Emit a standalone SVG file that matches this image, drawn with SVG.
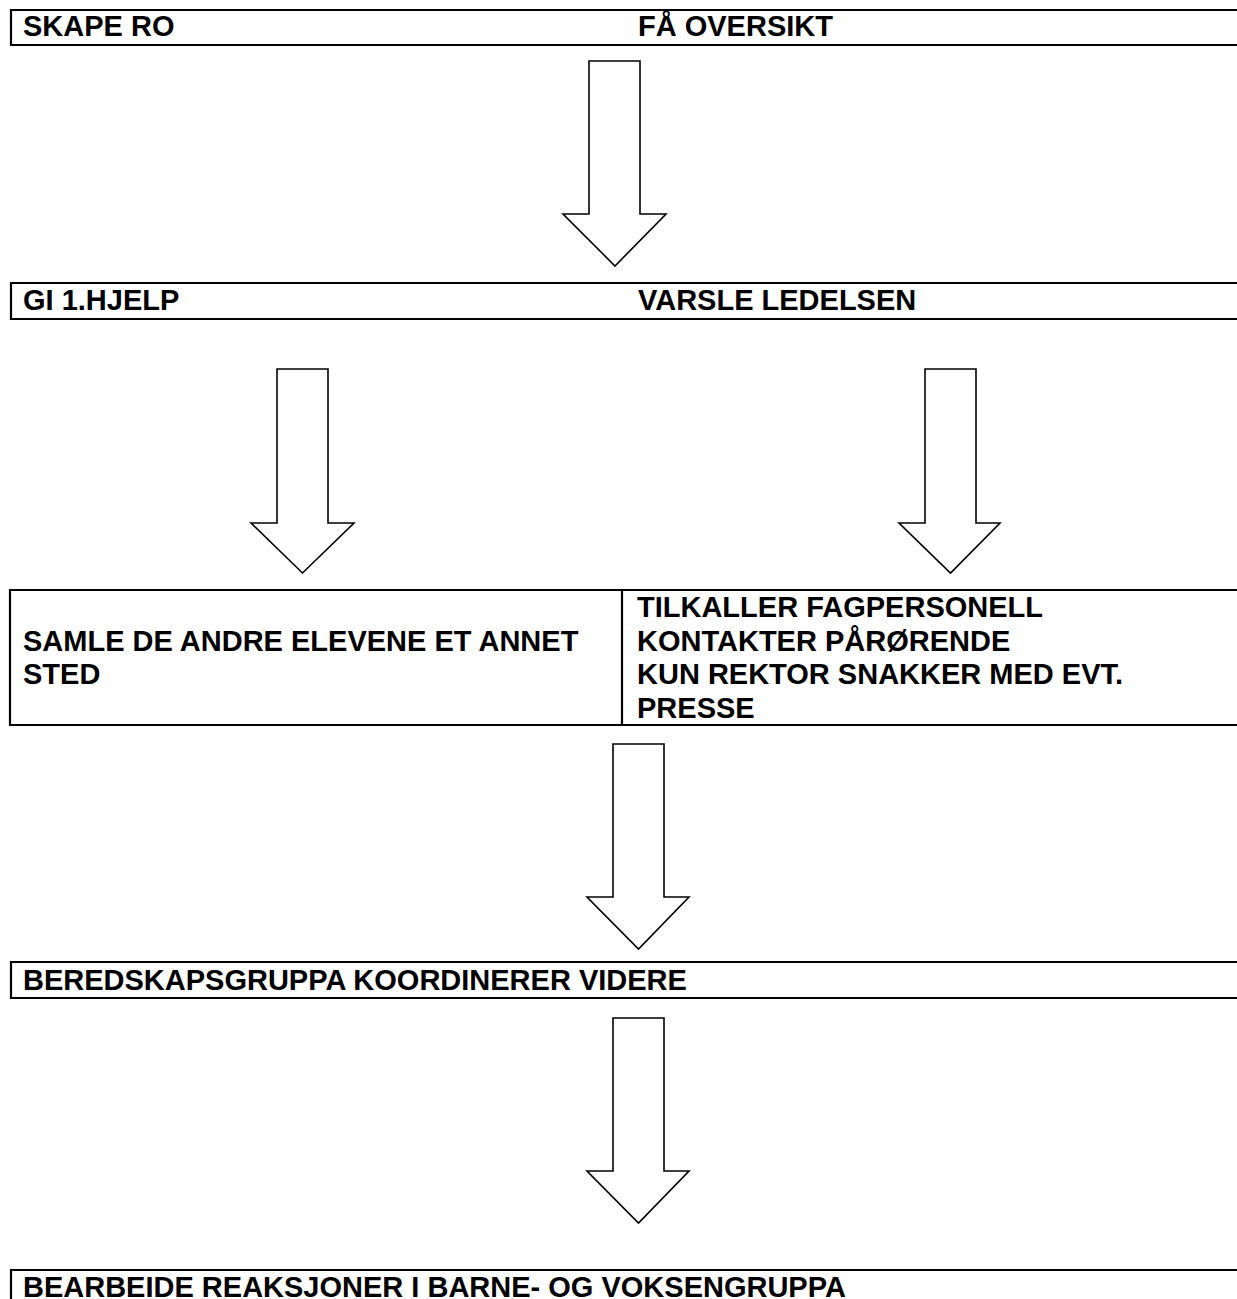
<svg xmlns="http://www.w3.org/2000/svg" width="1237" height="1299" viewBox="0 0 1237 1299">
<style>
.t{font-family:"Liberation Sans",Arial,sans-serif;font-weight:bold;font-size:29px;fill:#000}
.b{fill:none;stroke:#000;stroke-width:2.2}
.a{fill:#fff;stroke:#000;stroke-width:1.6;stroke-linejoin:miter}
</style>
<rect width="1237" height="1299" fill="#fff"/>
<g id="n1">
<path class="b" d="M1240 10 H11 V45 H1240"/>
<text class="t" x="23" y="36">SKAPE RO</text>
<text class="t" x="638" y="36">FÅ OVERSIKT</text>
</g>
<g id="n2">
<path class="b" d="M1240 283 H11 V319 H1240"/>
<text class="t" x="23" y="310">GI 1.HJELP</text>
<text class="t" x="638" y="310">VARSLE LEDELSEN</text>
</g>
<g id="n3">
<path class="b" d="M1240 590 H10 V725 H1240 M622 590 V725"/>
<text class="t" x="23" y="650.5">SAMLE DE ANDRE ELEVENE ET ANNET</text>
<text class="t" x="23" y="684">STED</text>
</g>
<g id="n4">
<text class="t" x="637" y="617">TILKALLER FAGPERSONELL</text>
<text class="t" x="637" y="650.5">KONTAKTER PÅRØRENDE</text>
<text class="t" x="637" y="684">KUN REKTOR SNAKKER MED EVT.</text>
<text class="t" x="637" y="717.5">PRESSE</text>
</g>
<g id="n5">
<path class="b" d="M1240 962 H11 V998 H1240"/>
<text class="t" x="23" y="990">BEREDSKAPSGRUPPA KOORDINERER VIDERE</text>
</g>
<g id="n6">
<path class="b" d="M1240 1270 H11 V1305"/>
<text class="t" x="23" y="1297">BEARBEIDE REAKSJONER I BARNE- OG VOKSENGRUPPA</text>
</g>
<g id="connectors">
<path class="a" d="M589 61 H640 V214 H666 L615 266 L563 214 H589 Z"/>
<path class="a" d="M277 369 H328 V523 H354 L302.5 573 L251 523 H277 Z"/>
<path class="a" d="M925 369 H976 V523 H1000 L950.5 573 L899 523 H925 Z"/>
<path class="a" d="M613 744 H664 V897 H689 L638.5 949 L587 897 H613 Z"/>
<path class="a" d="M613 1018 H664 V1171 H689 L638.5 1223 L587 1171 H613 Z"/>
</g>
</svg>
